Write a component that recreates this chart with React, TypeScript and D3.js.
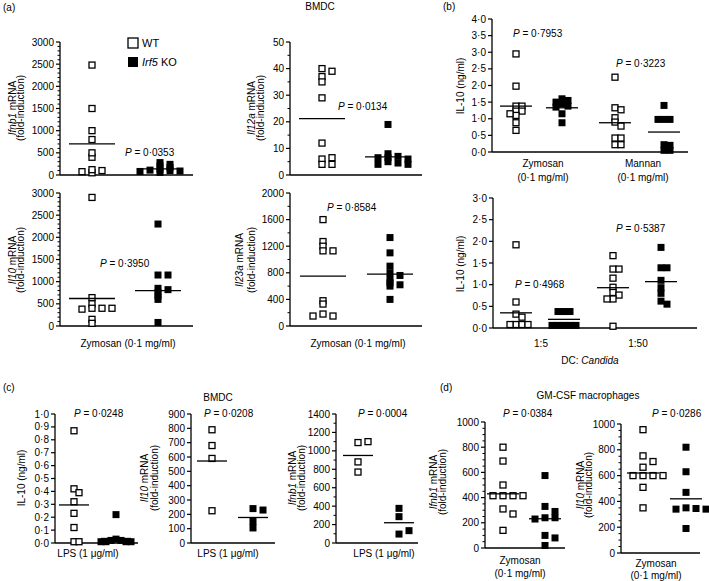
import React from 'react';
import * as d3 from 'd3';

// ---------- DATA ----------
// (a) BMDC, zymosan
const aIfnb1WT = [2480, 1500, 800, 1000, 400, 500, 50, 120, 100, 75];
const aIfnb1KO = [280, 240, 200, 170, 130, 110, 100, 90, 80, 60];
const aIfnb1Lines = [700, 140];
const aIl12aWT = [40, 39, 37, 35, 29, 12, 6, 6.5, 4, 4];
const aIl12aKO = [19, 8, 7, 6.5, 6.5, 6, 5, 4.5, 4, 4];
const aIl12aLines = [21.2, 6.8];
const aIl10WT = [2900, 640, 500, 400, 400, 380, 400, 150, 60];
const aIl10KO = [2300, 1150, 1150, 850, 820, 760, 680, 600, 80];
const aIl10Lines = [620, 800];
const aIl23aWT = [1600, 1270, 1200, 1130, 1130, 380, 330, 180, 150, 150];
const aIl23aKO = [1330, 1100, 900, 800, 760, 700, 650, 620, 600, 400];
const aIl23aLines = [750, 780];
// (b) IL-10 protein
const bZymWT = [2.95, 1.98, 1.38, 1.38, 1.23, 1.23, 1.1, 1.15, 0.88, 0.65];
const bZymKO = [1.6, 1.55, 1.5, 1.45, 1.38, 1.35, 1.15, 0.88];
const bManWT = [2.25, 1.33, 1.27, 1.03, 0.9, 0.78, 0.42, 0.42, 0.22, 0.22];
const bManKO = [1.4, 0.98, 0.98, 0.98, 0.22, 0.2, 0.05, 0.05];
const bTopLines = [1.38, 1.33, 0.88, 0.6];
const b15WT = [1.92, 0.6, 0.32, 0.25, 0.08, 0.08, 0.08, 0.08];
const b15KO = [0.38, 0.38, 0.38, 0.06, 0.06, 0.06, 0.06, 0.06];
const b150WT = [1.67, 1.36, 1.36, 1.15, 0.94, 0.82, 0.76, 0.67, 0.67, 0.04];
const b150KO = [1.86, 1.39, 1.39, 1.1, 0.93, 0.8, 0.62, 0.55];
const bBotLines = [0.35, 0.2, 0.93, 1.07];
// (c) BMDC, LPS
const cIL10WT = [0.87, 0.42, 0.39, 0.32, 0.23, 0.12, 0.01, 0.01];
const cIL10KO = [0.22, 0.03, 0.02, 0.02, 0.01, 0.01, 0.01, 0.01];
const cIL10Lines = [0.295, 0.035];
const cIl10WT = [790, 680, 590, 225];
const cIl10KO = [240, 230, 150, 105];
const cIl10Lines = [572, 178];
const cIfnb1WT = [1090, 1100, 880, 770];
const cIfnb1KO = [376, 286, 97, 134];
const cIfnb1Lines = [950, 220];
// (d) GM-CSF macrophages
const dIfnb1WT = [800, 690, 500, 415, 415, 415, 415, 310, 270, 140];
const dIfnb1KO = [575, 330, 290, 240, 240, 230, 100, 80, 20];
const dIfnb1Lines = [430, 232];
const dIl10WT = [956, 753, 709, 665, 600, 600, 600, 600, 509, 350];
const dIl10KO = [820, 630, 470, 350, 345, 340, 340, 190];
const dIl10Lines = [620, 420];

const FONT = 'Liberation Sans, Arial, Helvetica, sans-serif';

type Group = { values: number[]; filled: boolean; center: number; line: number };
type Spec = {
  axisX: number; axisEnd: number; yTop: number; yBottom: number;
  max: number; major: number; minor?: number; decimals?: boolean;
  groups: Group[]; half: number; step: number; sizeX: number; sizeY: number;
};

function dodge(values: number[], y: (v: number) => number, center: number, step: number, sx: number, sy: number) {
  const placed: { x: number; y: number }[] = [];
  const order = [0, 1, -1, 2, -2, 3, -3, 4, -4, 5, -5, 6, -6];
  values.forEach((v) => {
    const yy = y(v);
    for (const k of order) {
      const xx = center + k * step;
      if (!placed.some((p) => Math.abs(p.x - xx) < sx && Math.abs(p.y - yy) < sy)) {
        placed.push({ x: xx, y: yy });
        return;
      }
    }
    placed.push({ x: center, y: yy });
  });
  return placed;
}

function Panel({ s }: { s: Spec }) {
  const y = d3.scaleLinear().domain([0, s.max]).range([s.yBottom, s.yTop]);
  const majors = d3.range(0, s.max + s.major / 1000, s.major);
  const minors = s.minor
    ? d3.range(0, s.max + s.minor / 1000, s.minor).filter((v) => Math.abs(v / s.major - Math.round(v / s.major)) > 1e-6)
    : [];
  const fmt = (v: number) => (s.decimals ? v.toFixed(1).replace('.', '·') : String(Math.round(v)));
  return (
    <g>
      <line x1={s.axisX} x2={s.axisX} y1={s.yTop} y2={s.yBottom} stroke="#000" strokeWidth={1.3} />
      <line x1={s.axisX} x2={s.axisEnd} y1={s.yBottom} y2={s.yBottom} stroke="#000" strokeWidth={1.3} />
      {majors.map((v) => (
        <g key={'M' + v}>
          <line x1={s.axisX - 4} x2={s.axisX} y1={y(v)} y2={y(v)} stroke="#000" strokeWidth={1.2} />
          <text x={s.axisX - 6} y={y(v)} dy="0.35em" textAnchor="end" fontSize={10} fontFamily={FONT}>
            {fmt(v)}
          </text>
        </g>
      ))}
      {minors.map((v) => (
        <line key={'m' + v} x1={s.axisX - 2.5} x2={s.axisX} y1={y(v)} y2={y(v)} stroke="#000" strokeWidth={1} />
      ))}
      {s.groups.map((g, gi) => {
        const pts = dodge(g.values, y, g.center, s.step, s.sizeX, s.sizeY);
        return (
          <g key={gi}>
            {pts.map((p, i) =>
              g.filled ? (
                <rect key={i} x={p.x - 3.5} y={p.y - 3.5} width={7} height={7} fill="#000" />
              ) : (
                <rect key={i} x={p.x - 3} y={p.y - 3} width={6} height={6} fill="#fff" stroke="#000" strokeWidth={1.3} />
              )
            )}
            <line x1={g.center - s.half} x2={g.center + s.half} y1={y(g.line)} y2={y(g.line)} stroke="#000" strokeWidth={1.3} />
          </g>
        );
      })}
    </g>
  );
}

function PText({ x, y, value }: { x: number; y: number; value: string }) {
  return (
    <text x={x} y={y} fontSize={10} fontFamily={FONT}>
      <tspan fontStyle="italic">P</tspan> = {value}
    </text>
  );
}

function YLabel({ x1, x2, cy, gene, single }: { x1: number; x2?: number; cy: number; gene?: string; single?: string }) {
  if (single) {
    return (
      <text transform={`translate(${x1},${cy}) rotate(-90)`} textAnchor="middle" fontSize={10} fontFamily={FONT}>
        {single}
      </text>
    );
  }
  return (
    <g>
      <text transform={`translate(${x1},${cy}) rotate(-90)`} textAnchor="middle" fontSize={10} fontFamily={FONT}>
        <tspan fontStyle="italic">{gene}</tspan> mRNA
      </text>
      <text transform={`translate(${x2},${cy}) rotate(-90)`} textAnchor="middle" fontSize={10} fontFamily={FONT}>
        (fold-induction)
      </text>
    </g>
  );
}

function T({ x, y, children, anchor = 'middle', size = 10 }: any) {
  return (
    <text x={x} y={y} textAnchor={anchor} fontSize={size} fontFamily={FONT}>
      {children}
    </text>
  );
}

const grp = (wt: number[], ko: number[], lines: number[], cWT: number, cKO: number, off = 0): Group[] => [
  { values: wt, filled: false, center: cWT, line: lines[off] },
  { values: ko, filled: true, center: cKO, line: lines[off + 1] },
];

export default function App() {
  const aStyle = { half: 23, step: 5, sizeX: 6, sizeY: 3 };
  const specs: Spec[] = [
    { axisX: 60, axisEnd: 193, yTop: 42, yBottom: 175, max: 3000, major: 500, minor: 100, groups: grp(aIfnb1WT, aIfnb1KO, aIfnb1Lines, 92, 160), ...aStyle },
    { axisX: 290, axisEnd: 422, yTop: 42, yBottom: 175, max: 50, major: 10, minor: 5, groups: grp(aIl12aWT, aIl12aKO, aIl12aLines, 322, 388), ...aStyle },
    { axisX: 60, axisEnd: 193, yTop: 193, yBottom: 326, max: 3000, major: 500, minor: 100, groups: grp(aIl10WT, aIl10KO, aIl10Lines, 92, 158), ...aStyle },
    { axisX: 290, axisEnd: 422, yTop: 193, yBottom: 326, max: 2000, major: 400, minor: 200, groups: grp(aIl23aWT, aIl23aKO, aIl23aLines, 323, 390), ...aStyle },
    {
      axisX: 492, axisEnd: 688, yTop: 19, yBottom: 152, max: 4, major: 0.5, decimals: true,
      groups: [...grp(bZymWT, bZymKO, bTopLines, 516, 562, 0), ...grp(bManWT, bManKO, bTopLines, 615, 664, 2)],
      half: 16, step: 6, sizeX: 6, sizeY: 4,
    },
    {
      axisX: 493, axisEnd: 697, yTop: 198, yBottom: 328, max: 3, major: 0.5, decimals: true,
      groups: [...grp(b15WT, b15KO, bBotLines, 516, 564, 0), ...grp(b150WT, b150KO, bBotLines, 613, 661, 2)],
      half: 16, step: 6, sizeX: 6, sizeY: 4,
    },
    { axisX: 55, axisEnd: 138, yTop: 414, yBottom: 543, max: 1.0, major: 0.1, decimals: true, groups: grp(cIL10WT, cIL10KO, cIL10Lines, 74, 116), half: 15, step: 5, sizeX: 4, sizeY: 4 },
    { axisX: 191, axisEnd: 275, yTop: 414, yBottom: 543, max: 900, major: 100, groups: grp(cIl10WT, cIl10KO, cIl10Lines, 212, 253), half: 15, step: 10, sizeX: 6, sizeY: 6 },
    { axisX: 336, axisEnd: 418, yTop: 414, yBottom: 543, max: 1400, major: 200, minor: 100, groups: grp(cIfnb1WT, cIfnb1KO, cIfnb1Lines, 358, 399), half: 15, step: 10, sizeX: 6, sizeY: 6 },
    { axisX: 485, axisEnd: 565, yTop: 422, yBottom: 548, max: 1000, major: 200, minor: 50, groups: grp(dIfnb1WT, dIfnb1KO, dIfnb1Lines, 503, 545), half: 16, step: 10, sizeX: 6, sizeY: 6 },
    { axisX: 621, axisEnd: 700, yTop: 424, yBottom: 553, max: 1000, major: 200, minor: 50, groups: grp(dIl10WT, dIl10KO, dIl10Lines, 643, 686), half: 16, step: 10, sizeX: 6, sizeY: 6 },
  ];

  return (
    <svg width={709} height={581} style={{ position: 'absolute', left: 0, top: 0, background: '#fff' }}>
      <rect width={709} height={581} fill="#fff" />
      {specs.map((s, i) => (
        <Panel key={i} s={s} />
      ))}

      {/* titles */}
      <T x={3} y={11} anchor="start">(a)</T>
      <T x={320} y={10}>BMDC</T>
      <T x={443} y={10} anchor="start">(b)</T>
      <T x={3} y={391} anchor="start">(c)</T>
      <T x={218} y={401}>BMDC</T>
      <T x={440} y={391} anchor="start">(d)</T>
      <T x={588} y={399}>GM-CSF macrophages</T>

      {/* legend */}
      <rect x={128} y={38} width={10} height={10} fill="#fff" stroke="#000" strokeWidth={1.3} />
      <rect x={128} y={57} width={10} height={10} fill="#000" />
      <T x={142} y={47} anchor="start" size={11}>WT</T>
      <text x={142} y={66} fontSize={11} fontFamily={FONT}>
        <tspan fontStyle="italic">Irf5</tspan> KO
      </text>

      {/* P values */}
      <PText x={125} y={156} value="0·0353" />
      <PText x={338} y={110} value="0·0134" />
      <PText x={100} y={267} value="0·3950" />
      <PText x={327} y={211} value="0·8584" />
      <PText x={513} y={37} value="0·7953" />
      <PText x={616} y={67} value="0·3223" />
      <PText x={515} y={288} value="0·4968" />
      <PText x={616} y={232} value="0·5387" />
      <PText x={74} y={417} value="0·0248" />
      <PText x={204} y={417} value="0·0208" />
      <PText x={358} y={417} value="0·0004" />
      <PText x={503} y={417} value="0·0384" />
      <PText x={652} y={417} value="0·0286" />

      {/* y labels */}
      <YLabel x1={15.5} x2={24} cy={108} gene="Ifnb1" />
      <YLabel x1={255} x2={264} cy={108} gene="Il12a" />
      <YLabel x1={15.5} x2={24} cy={260} gene="Il10" />
      <YLabel x1={243} x2={255} cy={260} gene="Il23a" />
      <YLabel x1={464} cy={86} single="IL-10 (ng/ml)" />
      <YLabel x1={464} cy={264} single="IL-10 (ng/ml)" />
      <YLabel x1={25} cy={478} single="IL-10 (ng/ml)" />
      <YLabel x1={148} x2={158} cy={478} gene="Il10" />
      <YLabel x1={296} x2={305} cy={478} gene="Ifnb1" />
      <YLabel x1={437} x2={446} cy={482} gene="Ifnb1" />
      <YLabel x1={584} x2={592} cy={485} gene="Il10" />

      {/* x labels */}
      <T x={128} y={347}>Zymosan (0·1 mg/ml)</T>
      <T x={358} y={347}>Zymosan (0·1 mg/ml)</T>
      <T x={543} y={167}>Zymosan</T>
      <T x={543} y={181}>(0·1 mg/ml)</T>
      <T x={643} y={167}>Mannan</T>
      <T x={643} y={181}>(0·1 mg/ml)</T>
      <T x={541} y={347}>1:5</T>
      <T x={638} y={347}>1:50</T>
      <text x={590} y={364} textAnchor="middle" fontSize={10} fontFamily={FONT}>
        DC: <tspan fontStyle="italic">Candida</tspan>
      </text>
      <T x={88} y={557}>LPS (1 μg/ml)</T>
      <T x={228} y={557}>LPS (1 μg/ml)</T>
      <T x={384} y={557}>LPS (1 μg/ml)</T>
      <T x={520} y={564}>Zymosan</T>
      <T x={520} y={577}>(0·1 mg/ml)</T>
      <T x={656} y={567}>Zymosan</T>
      <T x={656} y={579}>(0·1 mg/ml)</T>
    </svg>
  );
}
